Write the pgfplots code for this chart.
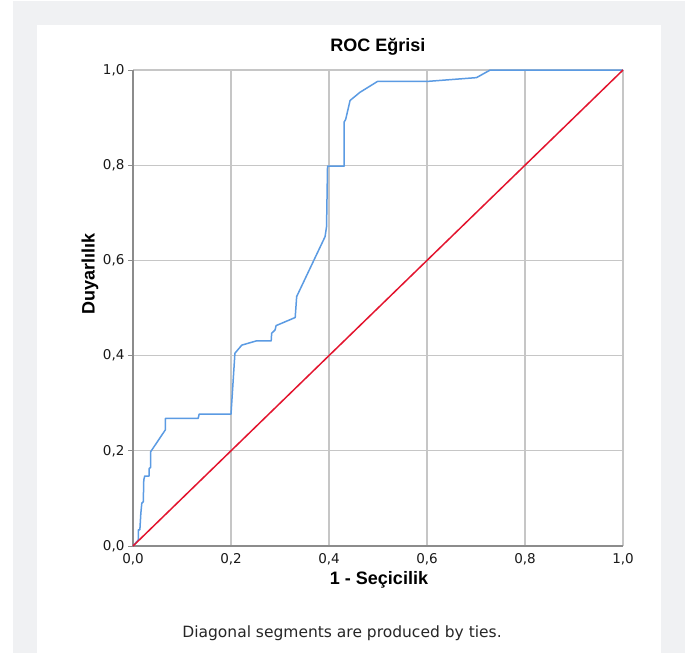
\documentclass[border=0pt]{standalone}
\usepackage{fontspec}
\setmainfont{Liberation Sans}
\newfontfamily\tickfont{DejaVu Sans}
\usepackage{pgfplots}
\pgfplotsset{compat=1.18}

\definecolor{pagegray}{HTML}{F0F1F3}
\definecolor{gridgray}{HTML}{C6C6C6}
\definecolor{axisgray}{HTML}{8C8C8C}
\definecolor{rocblue}{HTML}{5B9BE3}
\definecolor{diagred}{HTML}{E3142E}

\begin{document}
\begin{tikzpicture}[x=1pt,y=-1pt]
    % page background and white panel
    \path[use as bounding box,fill=white] (0,0) rectangle (685,653);
    \fill[pagegray] (13,1) rectangle (685,653);
    \fill[white] (37,25) rectangle (661,653);

    \begin{axis}[
        at={(133pt,-546pt)}, anchor=south west,
        scale only axis,
        width=490pt, height=476pt,
        xmin=0, xmax=1, ymin=0, ymax=1,
        xtick={0,0.2,0.4,0.6,0.8,1},
        ytick={0,0.2,0.4,0.6,0.8,1},
        axis x line*=bottom, axis y line*=left,
        axis line style={-,draw=axisgray,line width=2pt},
        grid=major,
        grid style={gridgray,line width=1.2pt},
        xtick style={draw=none},
        ytick style={draw=axisgray,line width=0.8pt},
        tick align=outside, major tick length=5pt,
        /pgf/number format/.cd, use comma, fixed, fixed zerofill, precision=1,
        assume math mode=true,
        /pgfplots/.cd,
        tick label style={font=\tickfont\fontsize{13.5}{14}\selectfont,text=black!90},
        xticklabel style={yshift=1pt},
        clip=false]

        % ROC curve
        \addplot[rocblue,line width=1.5pt,line join=round] coordinates {
            (0,0) (0.011,0.013) (0.011,0.034) (0.014,0.034) (0.016,0.069)
            (0.018,0.090) (0.021,0.093) (0.022,0.139) (0.024,0.147)
            (0.033,0.147) (0.033,0.163) (0.036,0.165) (0.036,0.198)
            (0.066,0.244) (0.066,0.268) (0.133,0.268) (0.135,0.277)
            (0.200,0.277) (0.208,0.405) (0.222,0.422) (0.252,0.431)
            (0.282,0.431) (0.283,0.447) (0.290,0.454) (0.292,0.463)
            (0.331,0.480) (0.334,0.524) (0.392,0.650) (0.395,0.671)
            (0.397,0.798) (0.431,0.798) (0.431,0.891) (0.434,0.896)
            (0.443,0.936) (0.463,0.953) (0.499,0.976) (0.600,0.976)
            (0.701,0.984) (0.729,1.000) (1,1)};

        % reference diagonal
        \addplot[diagred,line width=1.5pt] coordinates {(0,0) (1,1)};
    \end{axis}

    \node[font=\bfseries\fontsize{18}{20}\selectfont] at (378,47) {ROC Eğrisi};
    \node[font=\bfseries\fontsize{18}{20}\selectfont] at (379,580) {1 - Seçicilik};
    \node[font=\bfseries\fontsize{18}{20}\selectfont,rotate=90] at (90,274) {Duyarlılık};
    \node[font=\tickfont\fontsize{15.5}{17}\selectfont,text=black!85] at (342,633)
        {Diagonal segments are produced by ties.};
\end{tikzpicture}
\end{document}
